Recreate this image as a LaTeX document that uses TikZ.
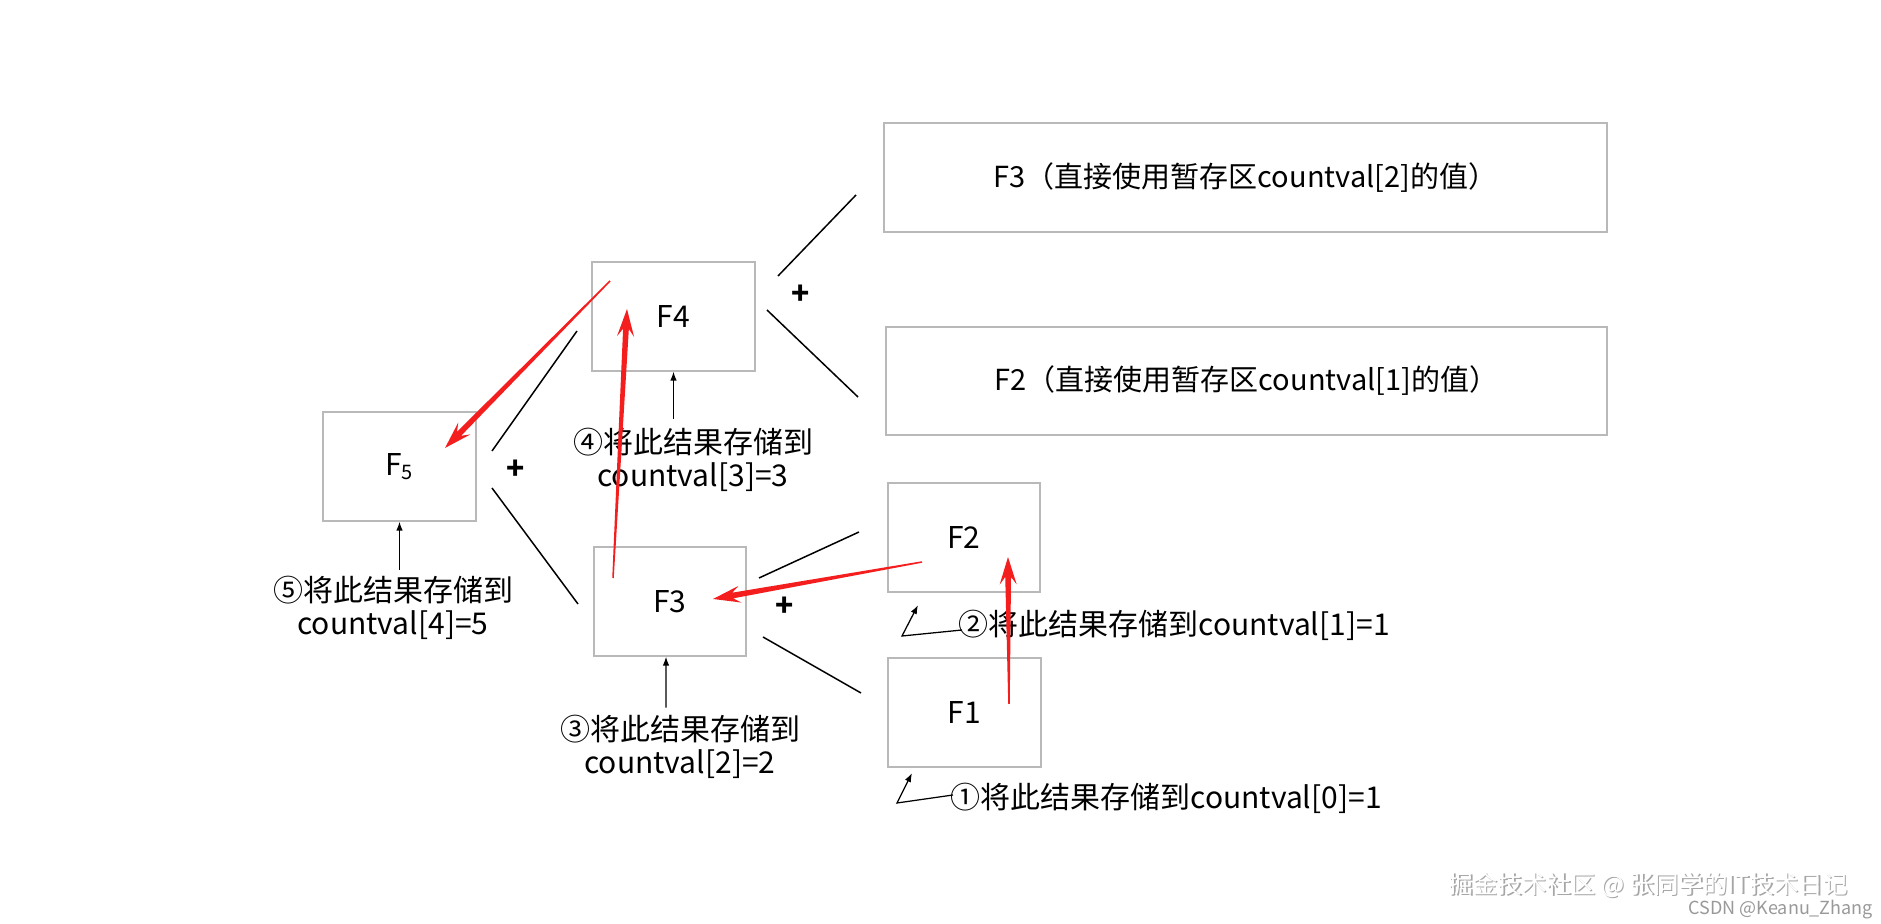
\documentclass[tikz,border=0pt]{standalone}
\usepackage{fontspec}
\setmainfont{Noto Sans CJK SC}
\usetikzlibrary{calc,arrows.meta}
\definecolor{redA}{RGB}{245,30,30}
\definecolor{boxgray}{RGB}{185,185,185}
\newcommand\myfs{\fontsize{12pt}{13.4pt}\selectfont}
\newcommand\redarr[2]{%
  \coordinate (raN) at ($(#2)!8pt!(#1)$);
  \coordinate (raH) at ($(#2)!11pt!(#1)$);
  \fill[redA] ($(#1)!0.3pt!90:(#2)$) -- ($(raN)!1.15pt!90:(#2)$) -- ($(raH)!3.4pt!90:(#2)$) -- (#2)
     -- ($(raH)!3.4pt!-90:(#2)$) -- ($(raN)!1.15pt!-90:(#2)$) -- ($(#1)!0.3pt!-90:(#2)$) -- cycle;}
\tikzset{
  fbox/.style={draw=boxgray, line width=0.5pt, minimum height=43.6pt, inner sep=0pt, font=\myfs, fill=white},
  lab/.style={font=\myfs, inner sep=1pt},
  thin line/.style={line width=0.6pt, black},
  blk/.style={line width=0.5pt, -{Latex[length=3.6pt,width=2.6pt]}},
  plus/.style={font=\myfs\bfseries, inner sep=0pt},
  wmfont/.style={font=\fontsize{9.8pt}{11pt}\selectfont}
}
\begin{document}
\begin{tikzpicture}[x=0.4pt,y=-0.4pt]
\useasboundingbox (0,0) rectangle (1881,924);
\fill[white] (0,0) rectangle (1881,924);

% boxes
\node[fbox, minimum width=61.2pt] (F5) at (399.5,466.5) {F\textsubscript{5}};
\node[fbox, minimum width=65.2pt] (F4) at (673.5,316.5) {F4};
\node[fbox, minimum width=60.8pt] (F3) at (670,601.5) {F3};
\node[fbox, minimum width=60.8pt] (F2) at (964,537.5) {F2};
\node[fbox, minimum width=61.2pt] (F1) at (964.5,712.5) {F1};
\node[fbox, minimum width=289.2pt, font=\fontsize{11.6pt}{13pt}\selectfont] (T3) at (1245.5,177.5) {F3（直接使用暂存区countval[2]的值）};
\node[fbox, minimum width=288.4pt, minimum height=43.2pt, font=\fontsize{11.6pt}{13pt}\selectfont] (T2) at (1246.5,381) {F2（直接使用暂存区countval[1]的值）};

% branch lines and plus signs
\coordinate (a1) at (492,451); \coordinate (a2) at (577,331);
\coordinate (a3) at (492,488); \coordinate (a4) at (578,604);
\draw[thin line] (a1) -- (a2); \draw[thin line] (a3) -- (a4);
\node[plus] (p5) at (516,470) {+};
\coordinate (b1) at (778,276); \coordinate (b2) at (856,195);
\coordinate (b3) at (767,310); \coordinate (b4) at (858,397);
\draw[thin line] (b1) -- (b2); \draw[thin line] (b3) -- (b4);
\node[plus] (p4) at (801,295) {+};
\coordinate (c1) at (759,578); \coordinate (c2) at (859,532);
\coordinate (c3) at (763,637); \coordinate (c4) at (861,693);
\draw[thin line] (c1) -- (c2); \draw[thin line] (c3) -- (c4);
\node[plus] (p3) at (785,607) {+};

% labels
\node[lab, align=center] (L5) at (393,608) {⑤将此结果存储到\\countval[4]=5};
\node[lab, align=center] (L4) at (693,460) {④将此结果存储到\\countval[3]=3};
\node[lab, align=center] (L3) at (680,747) {③将此结果存储到\\countval[2]=2};
\node[lab, anchor=west, inner sep=0pt] (L2) at (958,625) {②将此结果存储到countval[1]=1};
\node[lab, anchor=west, inner sep=0pt] (L1) at (950,798) {①将此结果存储到countval[0]=1};

% black arrows
\draw[blk] ($(F5.south)+(0,48)$) -- (F5.south);
\draw[blk] ($(F4.south)+(0,47)$) -- (F4.south);
\draw[blk] ($(F3.south)+(-4,51)$) -- ([xshift=-1.6pt]F3.south);
\coordinate (k2) at (902,636); \coordinate (t2) at (918,605);
\draw[blk] ($(L2.west)+(4,5)$) -- (k2) -- (t2);
\coordinate (k1) at (897,803); \coordinate (t1) at (912,773);
\draw[blk] ($(L1.west)+(3,-3)$) -- (k1) -- (t1);

% red arrows
\coordinate (r1s) at (1009,704); \coordinate (r1e) at (1008,557);
\coordinate (r2s) at (922,562);  \coordinate (r2e) at (713,599);
\coordinate (r3s) at (613,578);  \coordinate (r3e) at (627,309);
\coordinate (r4s) at (610,281);  \coordinate (r4e) at (445,448);
\redarr{r1s}{r1e}
\redarr{r2s}{r2e}
\redarr{r3s}{r3e}
\redarr{r4s}{r4e}

% watermarks
\node[anchor=west, inner sep=0pt, wmfont, text=gray!70] (wm1s) at (1449.5,886.5) {掘金技术社区 @ 张同学的IT技术日记};
\node[anchor=west, inner sep=0pt, wmfont, text=white] (wm1) at (1448,885) {掘金技术社区 @ 张同学的IT技术日记};
\node[anchor=west, inner sep=0pt, font=\fontsize{7.2pt}{9pt}\selectfont, text=gray!80] (wm2) at (1688,910) {CSDN @Keanu\_Zhang};
\end{tikzpicture}
\end{document}
